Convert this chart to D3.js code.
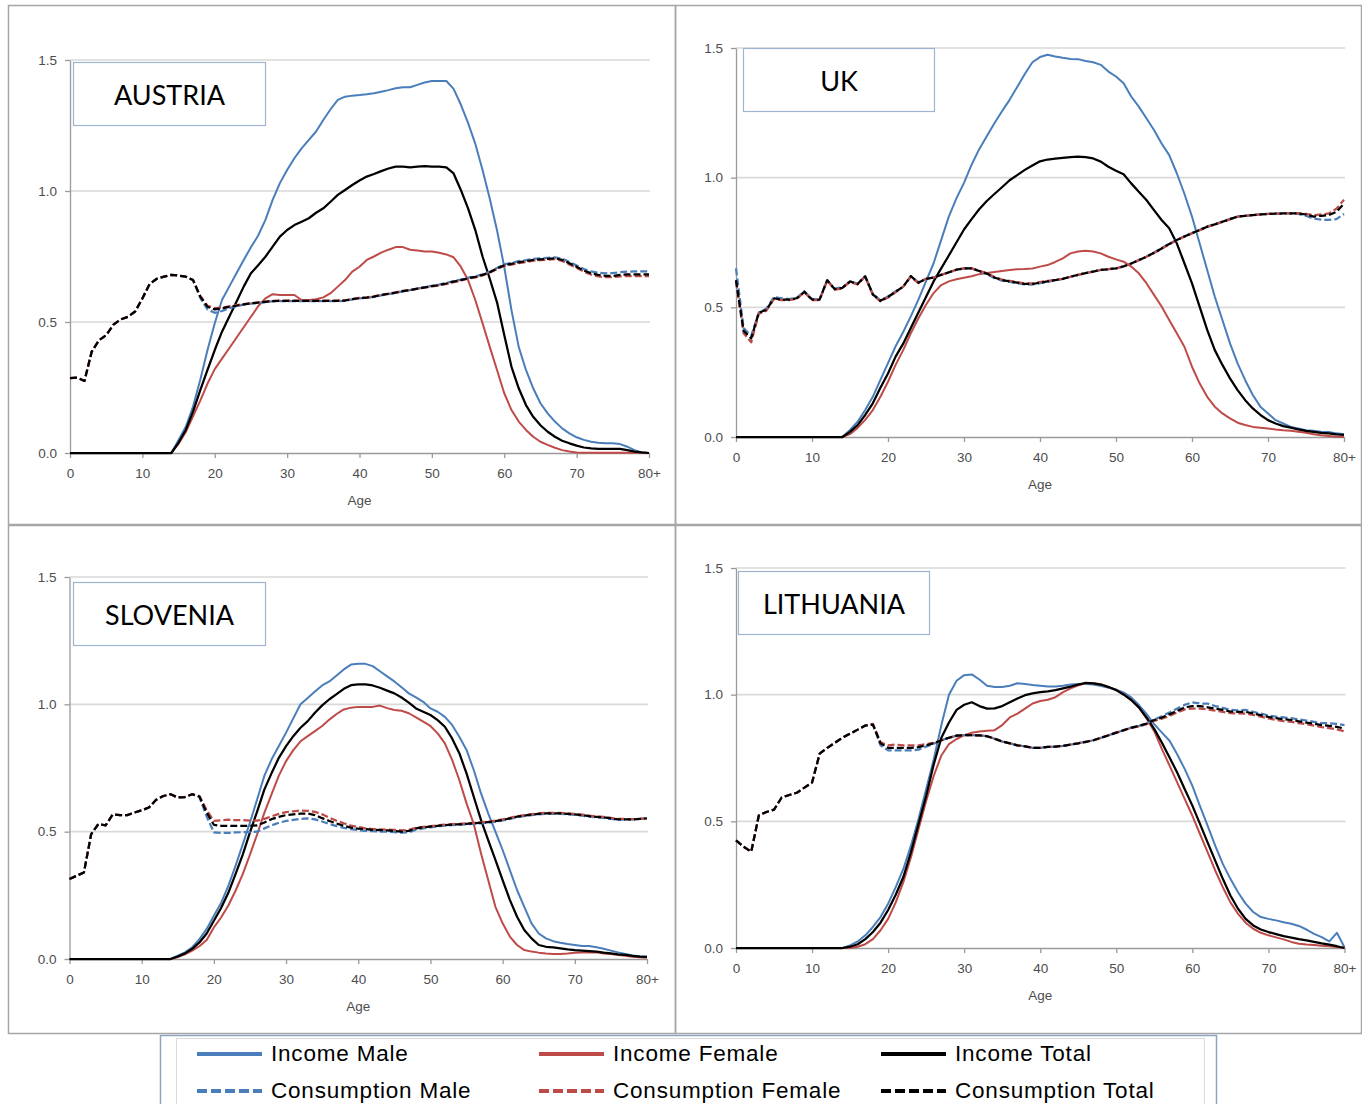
<!DOCTYPE html>
<html><head><meta charset="utf-8">
<script src="https://cdn.jsdelivr.net/npm/d3@7"></script>
<style>body{margin:0;background:#fff}svg{display:block}</style>
</head><body>
<svg id="chart" width="1362" height="1104"></svg>
<script>
// ---------- DATA ----------
const ages = [0,1,2,3,4,5,6,7,8,9,10,11,12,13,14,15,16,17,18,19,20,21,22,23,24,25,26,27,28,29,30,31,32,33,34,35,36,37,38,39,40,41,42,43,44,45,46,47,48,49,50,51,52,53,54,55,56,57,58,59,60,61,62,63,64,65,66,67,68,69,70,71,72,73,74,75,76,77,78,79,80];
const xTickValues = [0,10,20,30,40,50,60,70,80];
const xTickLabels = ["0","10","20","30","40","50","60","70","80+"];
const yTickValues = [0,0.5,1,1.5];
const yTickLabels = ["0.0","0.5","1.0","1.5"];
const countries = ["AUSTRIA","UK","SLOVENIA","LITHUANIA"];
const seriesNames = ["Income Male","Income Female","Income Total","Consumption Male","Consumption Female","Consumption Total"];
const xAxisTitle = "Age";

// AUSTRIA
const austriaIncomeMale = [0,0,0,0,0,0,0,0,0,0,
0,0,0,0,0,0.05,0.10,0.177,0.28,0.393,
0.495,0.584,0.635,0.686,0.737,0.785,0.83,0.89,0.966,1.03,
1.08,1.125,1.163,1.195,1.227,1.271,1.312,1.348,1.36,1.364,
1.366,1.369,1.373,1.379,1.385,1.392,1.396,1.396,1.405,1.414,
1.42,1.42,1.42,1.39,1.33,1.26,1.18,1.08,0.97,0.85,
0.71,0.545,0.405,0.317,0.247,0.19,0.151,0.12,0.094,0.075,
0.06,0.05,0.043,0.039,0.037,0.037,0.034,0.024,0.011,0.002,
0];
const austriaIncomeFemale = [0,0,0,0,0,0,0,0,0,0,
0,0,0,0,0,0.035,0.08,0.14,0.2,0.265,
0.32,0.36,0.40,0.44,0.48,0.52,0.56,0.59,0.606,0.603,
0.603,0.603,0.584,0.584,0.587,0.594,0.61,0.635,0.66,0.692,
0.711,0.737,0.75,0.765,0.776,0.786,0.786,0.776,0.773,0.769,
0.769,0.764,0.758,0.747,0.711,0.66,0.584,0.495,0.405,0.317,
0.228,0.164,0.12,0.088,0.062,0.043,0.031,0.02,0.011,0.006,
0.002,0.001,0.001,0.001,0.001,0.001,0.001,0.001,0.001,0.001,
0];
const austriaIncomeTotal = [0,0,0,0,0,0,0,0,0,0,
0,0,0,0,0,0.04,0.088,0.158,0.24,0.317,
0.393,0.463,0.52,0.577,0.635,0.686,0.717,0.749,0.788,0.826,
0.851,0.87,0.883,0.896,0.917,0.934,0.959,0.985,1.004,1.023,
1.04,1.055,1.065,1.076,1.086,1.093,1.093,1.09,1.093,1.095,
1.093,1.093,1.09,1.067,1.004,0.934,0.851,0.75,0.665,0.575,
0.45,0.329,0.247,0.183,0.138,0.106,0.081,0.062,0.047,0.037,
0.028,0.021,0.018,0.016,0.016,0.016,0.016,0.011,0.005,0.002,
0];
const austriaConsMale = [0.286,0.288,0.275,0.387,0.43,0.45,0.49,0.51,0.52,0.54,
0.59,0.645,0.665,0.673,0.68,0.677,0.673,0.66,0.592,0.548,
0.535,0.542,0.553,0.56,0.566,0.57,0.573,0.576,0.579,0.58,
0.58,0.58,0.58,0.58,0.58,0.58,0.58,0.58,0.581,0.586,
0.59,0.592,0.596,0.602,0.606,0.611,0.617,0.622,0.627,0.633,
0.638,0.643,0.649,0.656,0.662,0.669,0.674,0.682,0.692,0.706,
0.72,0.726,0.732,0.736,0.741,0.743,0.745,0.747,0.742,0.729,
0.716,0.702,0.693,0.688,0.686,0.687,0.69,0.692,0.693,0.693,
0.693];
const austriaConsFemale = [0.286,0.288,0.275,0.387,0.43,0.45,0.49,0.51,0.52,0.54,
0.59,0.645,0.665,0.673,0.68,0.677,0.673,0.66,0.60,0.562,
0.553,0.555,0.56,0.564,0.568,0.572,0.575,0.578,0.581,0.582,
0.582,0.582,0.582,0.582,0.582,0.582,0.582,0.582,0.583,0.588,
0.592,0.594,0.598,0.604,0.608,0.613,0.619,0.622,0.627,0.631,
0.636,0.64,0.645,0.652,0.658,0.665,0.67,0.678,0.688,0.702,
0.714,0.719,0.725,0.729,0.734,0.736,0.738,0.74,0.733,0.72,
0.707,0.692,0.681,0.674,0.671,0.671,0.674,0.675,0.675,0.675,
0.675];
const austriaConsTotal = [0.286,0.288,0.275,0.387,0.43,0.45,0.49,0.51,0.52,0.54,
0.59,0.645,0.665,0.673,0.68,0.677,0.673,0.66,0.597,0.558,
0.548,0.552,0.558,0.562,0.567,0.571,0.574,0.577,0.58,0.581,
0.581,0.581,0.581,0.581,0.581,0.581,0.581,0.581,0.582,0.587,
0.591,0.593,0.597,0.603,0.607,0.612,0.618,0.622,0.627,0.632,
0.637,0.641,0.647,0.654,0.66,0.667,0.672,0.68,0.69,0.704,
0.717,0.722,0.728,0.732,0.737,0.739,0.741,0.743,0.737,0.724,
0.711,0.696,0.686,0.68,0.676,0.676,0.68,0.682,0.682,0.682,
0.682];

// UK
const ukIncomeMale = [0,0,0,0,0,0,0,0,0,0,
0,0,0,0,0,0.027,0.059,0.104,0.155,0.22,
0.285,0.35,0.405,0.465,0.53,0.60,0.67,0.76,0.85,0.92,
0.98,1.05,1.11,1.16,1.21,1.256,1.30,1.35,1.40,1.445,
1.465,1.474,1.467,1.462,1.458,1.457,1.45,1.445,1.435,1.409,
1.39,1.364,1.313,1.274,1.229,1.184,1.132,1.087,1.017,0.938,
0.85,0.747,0.644,0.541,0.451,0.361,0.284,0.219,0.162,0.117,
0.091,0.065,0.052,0.039,0.033,0.026,0.024,0.02,0.019,0.014,
0.011];
const ukIncomeFemale = [0,0,0,0,0,0,0,0,0,0,
0,0,0,0,0,0.011,0.035,0.066,0.104,0.155,
0.213,0.278,0.335,0.40,0.458,0.51,0.555,0.586,0.60,0.608,
0.614,0.62,0.628,0.632,0.636,0.64,0.644,0.647,0.648,0.65,
0.657,0.663,0.675,0.689,0.708,0.715,0.718,0.715,0.708,0.695,
0.685,0.676,0.657,0.631,0.593,0.548,0.503,0.451,0.40,0.348,
0.271,0.207,0.155,0.117,0.091,0.072,0.055,0.046,0.039,0.036,
0.033,0.029,0.026,0.024,0.02,0.016,0.011,0.007,0.004,0.001,
0];
const ukIncomeTotal = [0,0,0,0,0,0,0,0,0,0,
0,0,0,0,0,0.02,0.046,0.085,0.13,0.19,
0.245,0.31,0.36,0.42,0.48,0.54,0.60,0.65,0.70,0.75,
0.80,0.84,0.878,0.91,0.937,0.963,0.99,1.01,1.03,1.047,
1.063,1.07,1.073,1.076,1.079,1.081,1.079,1.074,1.062,1.042,
1.027,1.013,0.978,0.946,0.914,0.875,0.837,0.805,0.747,0.67,
0.592,0.503,0.413,0.335,0.278,0.226,0.181,0.142,0.11,0.085,
0.065,0.052,0.042,0.036,0.029,0.024,0.02,0.016,0.014,0.01,
0.008];
const ukConsMale = [0.65,0.42,0.39,0.48,0.495,0.54,0.535,0.532,0.537,0.562,
0.532,0.532,0.605,0.572,0.577,0.60,0.592,0.62,0.552,0.527,
0.542,0.562,0.58,0.62,0.597,0.61,0.615,0.625,0.635,0.645,
0.65,0.65,0.64,0.628,0.613,0.603,0.598,0.593,0.588,0.588,
0.593,0.598,0.604,0.61,0.618,0.625,0.632,0.638,0.644,0.647,
0.65,0.658,0.669,0.682,0.695,0.712,0.729,0.745,0.761,0.774,
0.787,0.799,0.812,0.821,0.831,0.841,0.85,0.853,0.856,0.858,
0.86,0.861,0.862,0.862,0.86,0.853,0.842,0.838,0.837,0.84,
0.86];
const ukConsFemale = [0.60,0.40,0.365,0.475,0.487,0.532,0.528,0.528,0.533,0.558,
0.528,0.528,0.603,0.568,0.573,0.598,0.588,0.618,0.548,0.523,
0.538,0.558,0.58,0.618,0.593,0.61,0.615,0.625,0.635,0.645,
0.65,0.65,0.641,0.632,0.617,0.607,0.602,0.597,0.592,0.592,
0.597,0.602,0.606,0.61,0.618,0.625,0.632,0.638,0.644,0.647,
0.65,0.658,0.669,0.682,0.695,0.709,0.726,0.743,0.759,0.772,
0.785,0.797,0.81,0.819,0.829,0.839,0.85,0.853,0.856,0.858,
0.86,0.861,0.862,0.862,0.863,0.86,0.855,0.858,0.862,0.88,
0.915];
const ukConsTotal = [0.605,0.41,0.38,0.48,0.49,0.535,0.53,0.53,0.535,0.56,
0.53,0.53,0.605,0.57,0.575,0.60,0.59,0.62,0.55,0.525,
0.54,0.56,0.58,0.62,0.595,0.61,0.615,0.625,0.635,0.645,
0.65,0.65,0.64,0.63,0.615,0.605,0.60,0.595,0.59,0.59,
0.595,0.60,0.605,0.61,0.618,0.625,0.632,0.638,0.644,0.647,
0.65,0.658,0.669,0.682,0.695,0.71,0.727,0.744,0.76,0.773,
0.786,0.798,0.811,0.82,0.83,0.84,0.85,0.853,0.856,0.858,
0.86,0.861,0.862,0.862,0.862,0.858,0.85,0.853,0.856,0.868,
0.9];

// SLOVENIA
const sloveniaIncomeMale = [0,0,0,0,0,0,0,0,0,0,
0,0,0,0,0,0.013,0.026,0.046,0.078,0.118,
0.17,0.22,0.287,0.366,0.45,0.536,0.627,0.72,0.784,0.836,
0.889,0.945,1.0,1.025,1.05,1.074,1.09,1.113,1.137,1.156,
1.159,1.159,1.15,1.13,1.11,1.09,1.067,1.043,1.027,1.01,
0.984,0.971,0.951,0.919,0.873,0.821,0.742,0.651,0.572,0.5,
0.428,0.349,0.271,0.205,0.14,0.1,0.081,0.07,0.064,0.059,
0.055,0.051,0.051,0.046,0.04,0.033,0.026,0.02,0.014,0.011,
0.009];
const sloveniaIncomeFemale = [0,0,0,0,0,0,0,0,0,0,
0,0,0,0,0,0.008,0.018,0.033,0.05,0.075,
0.124,0.163,0.21,0.268,0.333,0.41,0.49,0.575,0.647,0.72,
0.777,0.82,0.855,0.875,0.895,0.915,0.94,0.962,0.98,0.987,
0.99,0.99,0.99,0.995,0.985,0.978,0.975,0.965,0.949,0.932,
0.915,0.886,0.847,0.782,0.703,0.611,0.53,0.415,0.31,0.205,
0.14,0.088,0.055,0.035,0.029,0.025,0.022,0.02,0.02,0.022,
0.025,0.026,0.026,0.026,0.022,0.02,0.016,0.013,0.009,0.007,
0.005];
const sloveniaIncomeTotal = [0,0,0,0,0,0,0,0,0,0,
0,0,0,0,0,0.01,0.022,0.04,0.065,0.10,
0.15,0.20,0.26,0.333,0.41,0.497,0.58,0.666,0.73,0.79,
0.836,0.875,0.908,0.934,0.967,0.996,1.02,1.04,1.061,1.075,
1.078,1.078,1.074,1.065,1.054,1.043,1.027,1.007,0.984,0.971,
0.958,0.938,0.912,0.866,0.808,0.729,0.637,0.546,0.467,0.389,
0.31,0.232,0.166,0.114,0.081,0.055,0.048,0.046,0.042,0.038,
0.035,0.033,0.031,0.029,0.025,0.022,0.018,0.016,0.012,0.009,
0.008];
const sloveniaConsMale = [0.314,0.327,0.34,0.49,0.53,0.525,0.568,0.565,0.565,0.575,
0.584,0.595,0.625,0.64,0.647,0.634,0.636,0.647,0.636,0.56,
0.497,0.495,0.495,0.497,0.498,0.498,0.50,0.513,0.525,0.535,
0.542,0.546,0.55,0.552,0.548,0.54,0.53,0.522,0.515,0.51,
0.506,0.503,0.502,0.50,0.50,0.498,0.496,0.497,0.508,0.513,
0.517,0.521,0.524,0.526,0.527,0.529,0.531,0.533,0.535,0.539,
0.544,0.55,0.557,0.561,0.565,0.568,0.57,0.57,0.57,0.568,
0.566,0.563,0.559,0.556,0.554,0.55,0.547,0.547,0.548,0.55,
0.553];
const sloveniaConsFemale = [0.314,0.327,0.34,0.49,0.53,0.525,0.568,0.565,0.565,0.575,
0.584,0.595,0.625,0.64,0.647,0.634,0.636,0.647,0.64,0.585,
0.542,0.545,0.547,0.545,0.545,0.543,0.543,0.55,0.56,0.57,
0.577,0.58,0.583,0.582,0.578,0.568,0.555,0.543,0.533,0.524,
0.518,0.513,0.51,0.509,0.508,0.507,0.505,0.507,0.515,0.519,
0.522,0.525,0.528,0.53,0.531,0.533,0.535,0.537,0.539,0.543,
0.548,0.554,0.561,0.565,0.569,0.572,0.574,0.574,0.574,0.572,
0.57,0.567,0.563,0.56,0.558,0.554,0.55,0.55,0.549,0.55,
0.552];
const sloveniaConsTotal = [0.314,0.327,0.34,0.49,0.53,0.525,0.568,0.565,0.565,0.575,
0.584,0.595,0.625,0.64,0.647,0.634,0.636,0.647,0.638,0.575,
0.527,0.523,0.523,0.523,0.523,0.523,0.525,0.536,0.549,0.558,
0.565,0.568,0.571,0.571,0.565,0.553,0.542,0.532,0.523,0.516,
0.512,0.51,0.507,0.506,0.505,0.503,0.50,0.503,0.513,0.517,
0.52,0.523,0.526,0.528,0.529,0.531,0.533,0.535,0.537,0.541,
0.546,0.552,0.559,0.563,0.567,0.57,0.572,0.572,0.572,0.57,
0.568,0.565,0.561,0.558,0.556,0.552,0.548,0.548,0.548,0.55,
0.552];

// LITHUANIA
const lithuaniaIncomeMale = [0,0,0,0,0,0,0,0,0,0,
0,0,0,0,0,0.01,0.026,0.05,0.083,0.122,
0.175,0.24,0.312,0.404,0.51,0.627,0.745,0.88,1.0,1.055,
1.077,1.08,1.06,1.035,1.03,1.03,1.035,1.045,1.042,1.038,
1.035,1.032,1.032,1.035,1.04,1.042,1.042,1.04,1.034,1.027,
1.02,1.008,0.988,0.958,0.923,0.883,0.85,0.818,0.765,0.706,
0.64,0.56,0.483,0.404,0.332,0.273,0.22,0.175,0.142,0.122,
0.115,0.109,0.102,0.096,0.087,0.073,0.056,0.043,0.026,0.06,
0.003];
const lithuaniaIncomeFemale = [0,0,0,0,0,0,0,0,0,0,
0,0,0,0,0,0,0.005,0.015,0.035,0.07,
0.115,0.18,0.26,0.358,0.47,0.58,0.68,0.76,0.805,0.825,
0.84,0.85,0.855,0.858,0.86,0.88,0.91,0.925,0.945,0.965,
0.975,0.98,0.99,1.01,1.025,1.037,1.045,1.045,1.04,1.03,
1.018,1.0,0.978,0.948,0.905,0.855,0.785,0.72,0.654,0.588,
0.522,0.45,0.378,0.306,0.24,0.18,0.135,0.10,0.076,0.06,
0.05,0.042,0.034,0.024,0.017,0.014,0.012,0.009,0.007,0.004,
0.001];
const lithuaniaIncomeTotal = [0,0,0,0,0,0,0,0,0,0,
0,0,0,0,0,0.005,0.015,0.035,0.063,0.10,
0.15,0.21,0.28,0.378,0.49,0.60,0.725,0.83,0.89,0.94,
0.96,0.97,0.955,0.945,0.946,0.955,0.97,0.985,0.998,1.005,
1.01,1.013,1.018,1.025,1.032,1.04,1.047,1.045,1.04,1.03,
1.018,1.0,0.978,0.949,0.909,0.864,0.81,0.752,0.693,0.627,
0.562,0.49,0.417,0.345,0.273,0.207,0.155,0.115,0.089,0.073,
0.063,0.055,0.047,0.041,0.035,0.03,0.024,0.018,0.013,0.007,
0];
const lithuaniaConsMale = [0.425,0.40,0.38,0.523,0.537,0.546,0.594,0.604,0.613,0.633,
0.653,0.767,0.79,0.81,0.83,0.846,0.862,0.878,0.882,0.80,
0.78,0.78,0.78,0.78,0.783,0.795,0.806,0.82,0.83,0.838,
0.84,0.84,0.839,0.836,0.826,0.815,0.808,0.80,0.796,0.79,
0.79,0.794,0.795,0.798,0.803,0.808,0.814,0.82,0.83,0.84,
0.85,0.86,0.87,0.877,0.886,0.902,0.915,0.93,0.945,0.96,
0.97,0.965,0.965,0.955,0.948,0.94,0.938,0.94,0.932,0.925,
0.918,0.913,0.91,0.907,0.902,0.898,0.893,0.888,0.887,0.885,
0.88];
const lithuaniaConsFemale = [0.425,0.40,0.38,0.523,0.537,0.546,0.594,0.604,0.613,0.633,
0.653,0.767,0.79,0.81,0.83,0.846,0.862,0.878,0.885,0.812,
0.80,0.803,0.80,0.80,0.80,0.805,0.81,0.82,0.83,0.838,
0.84,0.84,0.839,0.836,0.826,0.815,0.808,0.80,0.796,0.79,
0.79,0.794,0.795,0.798,0.803,0.808,0.814,0.82,0.83,0.84,
0.85,0.86,0.868,0.875,0.884,0.897,0.905,0.916,0.93,0.942,
0.945,0.945,0.942,0.937,0.932,0.927,0.926,0.925,0.92,0.913,
0.906,0.90,0.896,0.893,0.888,0.883,0.878,0.872,0.868,0.863,
0.855];
const lithuaniaConsTotal = [0.425,0.40,0.38,0.523,0.537,0.546,0.594,0.604,0.613,0.633,
0.653,0.767,0.79,0.81,0.83,0.846,0.862,0.878,0.882,0.808,
0.79,0.79,0.79,0.79,0.793,0.80,0.808,0.82,0.83,0.838,
0.84,0.84,0.839,0.836,0.826,0.815,0.808,0.80,0.796,0.79,
0.79,0.794,0.795,0.798,0.803,0.808,0.814,0.82,0.83,0.84,
0.85,0.86,0.87,0.877,0.886,0.90,0.91,0.923,0.936,0.95,
0.955,0.955,0.95,0.945,0.94,0.933,0.932,0.932,0.926,0.919,
0.912,0.907,0.903,0.90,0.895,0.89,0.885,0.88,0.877,0.873,
0.866];

// Per-panel series built from the named arrays (order = series drawing order)
const panelSeries = [
  [austriaIncomeMale, austriaIncomeFemale, austriaIncomeTotal, austriaConsMale, austriaConsFemale, austriaConsTotal],
  [ukIncomeMale, ukIncomeFemale, ukIncomeTotal, ukConsMale, ukConsFemale, ukConsTotal],
  [sloveniaIncomeMale, sloveniaIncomeFemale, sloveniaIncomeTotal, sloveniaConsMale, sloveniaConsFemale, sloveniaConsTotal],
  [lithuaniaIncomeMale, lithuaniaIncomeFemale, lithuaniaIncomeTotal, lithuaniaConsMale, lithuaniaConsFemale, lithuaniaConsTotal]
];

// ---------- LAYOUT & STYLE ----------
const layout = [
  {frame:[8,5,667,519],   left:70,   right:649,    y0:453, yTop:60,  box:[73.5,62.5,192,63]},
  {frame:[675,5,686,519], left:736,  right:1344,   y0:437, yTop:48,  box:[743.5,48.5,191,63]},
  {frame:[8,525,667,508], left:69.5, right:647,    y0:959, yTop:577, box:[73.5,582.5,192,63]},
  {frame:[675,525,686,508], left:736, right:1344.5, y0:948, yTop:568, box:[738.5,571.5,191,63]}
];
const seriesStyle = [
  {color:"#4a7ebb", dash:null,  width:2},
  {color:"#be4b48", dash:null,  width:2},
  {color:"#000000", dash:null,  width:2.25},
  {color:"#4a7ebb", dash:"7,3", width:2.25},
  {color:"#be4b48", dash:"7,3", width:2.25},
  {color:"#000000", dash:"7,3", width:2.25}
];

const svg = d3.select("#chart");
svg.append("rect").attr("width",1362).attr("height",1104).attr("fill","#fff");

layout.forEach((L, p) => {
  const g = svg.append("g");
  g.append("rect").attr("x",L.frame[0]+0.5).attr("y",L.frame[1]+0.5)
    .attr("width",L.frame[2]).attr("height",L.frame[3])
    .attr("fill","none").attr("stroke","#a6a6a6").attr("stroke-width",1.5);

  const x = d3.scaleLinear().domain([0,80]).range([L.left, L.right]);
  const y = d3.scaleLinear().domain([0,1.5]).range([L.y0, L.yTop]);

  // gridlines
  g.append("g").selectAll("line").data(yTickValues.filter(v => v > 0)).join("line")
    .attr("x1", L.left).attr("x2", L.right + 1)
    .attr("y1", d => y(d)).attr("y2", d => y(d))
    .attr("stroke","#d9d9d9").attr("stroke-width",1.6);

  // axes
  const yAxis = g.append("g").attr("transform",`translate(${L.left},0)`)
    .call(d3.axisLeft(y).tickValues(yTickValues).tickFormat((d,i)=>yTickLabels[i]).tickSize(5).tickSizeOuter(0).tickPadding(8));
  const xAxis = g.append("g").attr("transform",`translate(0,${L.y0})`)
    .call(d3.axisBottom(x).tickValues(xTickValues).tickFormat((d,i)=>xTickLabels[i]).tickSize(5).tickSizeOuter(0).tickPadding(10));
  [yAxis, xAxis].forEach(a => {
    a.select(".domain").attr("stroke","#9a9a9a").attr("stroke-width",1.3);
    a.selectAll(".tick line").attr("stroke","#9a9a9a").attr("stroke-width",1.3);
    a.selectAll("text").attr("fill","#4d4d4d").style("font-family","'Liberation Sans', Arial, sans-serif").style("font-size","13.5px");
  });

  g.append("text").attr("x", (L.left + L.right)/2).attr("y", L.y0 + 52)
    .attr("text-anchor","middle").attr("fill","#4d4d4d")
    .style("font-family","'Liberation Sans', Arial, sans-serif").style("font-size","13.5px")
    .text(xAxisTitle);

  // series
  const line = d3.line().x((d,i) => x(ages[i])).y(d => y(d));
  panelSeries[p].forEach((vals, s) => {
    const st = seriesStyle[s];
    g.append("path").datum(vals).attr("d", line)
      .attr("fill","none").attr("stroke", st.color).attr("stroke-width", st.width)
      .attr("stroke-linejoin","round")
      .attr("stroke-dasharray", st.dash);
  });

  // title box
  g.append("rect").attr("x",L.box[0]).attr("y",L.box[1]).attr("width",L.box[2]).attr("height",L.box[3])
    .attr("fill","#fff").attr("stroke","#9fb4cf").attr("stroke-width",1.2);
  g.append("text").attr("x",L.box[0]+L.box[2]/2).attr("y",L.box[1]+L.box[3]/2+4)
    .attr("text-anchor","middle").attr("dominant-baseline","middle")
    .style("font-family","Lato, 'Noto Sans', sans-serif").style("font-size","27px").attr("fill","#000")
    .text(countries[p]);
});

// ---------- LEGEND ----------
const lg = svg.append("g");
lg.append("rect").attr("x",160.5).attr("y",1035.5).attr("width",1056).attr("height",90)
  .attr("fill","#fff").attr("stroke","#8ea5c2").attr("stroke-width",1.5);
lg.append("rect").attr("x",176.5).attr("y",1038.5).attr("width",1028).attr("height",90)
  .attr("fill","none").attr("stroke","#dcdcdc").attr("stroke-width",1);
const legendCols = [197, 539, 881];
const legendRows = [1054, 1091];
seriesNames.forEach((name, i) => {
  const st = seriesStyle[i];
  const cx = legendCols[i % 3], cy = legendRows[Math.floor(i / 3)];
  lg.append("line").attr("x1",cx).attr("x2",cx+65).attr("y1",cy).attr("y2",cy)
    .attr("stroke",st.color).attr("stroke-width",4)
    .attr("stroke-dasharray", st.dash ? "10,4" : null);
  lg.append("text").attr("x",cx+74).attr("y",cy+1).attr("dominant-baseline","middle")
    .style("font-family","'Liberation Sans', Arial, sans-serif").style("font-size","22.5px")
    .style("letter-spacing","0.8px")
    .attr("fill","#000").text(name);
});
</script>
</body></html>
